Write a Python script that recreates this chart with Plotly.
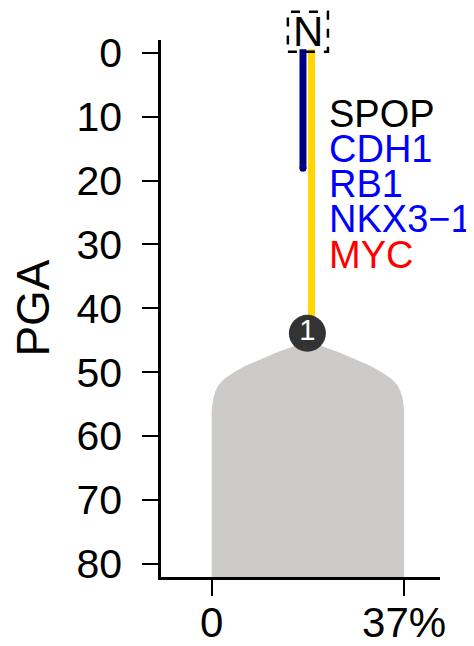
import plotly.graph_objects as go

# ---- data ----
genes = ["SPOP", "CDH1", "RB1", "NKX3\u22121", "MYC"]
gene_colors = ["black", "blue", "blue", "blue", "red"]
gene_pga = [9.6, 15.1, 20.6, 26.1, 31.6]
gene_x = 22.1

# density silhouette of PGA (half-width in % units around centre)
shape_pga = [45.3, 46.0, 47.0, 48.0, 49.0, 50.0, 51.0, 52.0, 53.0, 54.0, 55.0, 56.0, 82.05]
shape_halfwidth = [0.0, 3.0, 6.3, 9.3, 12.0, 14.2, 16.0, 17.2, 17.8, 18.2, 18.4, 18.5, 18.5]
shape_center = 18.5

# clone branches: [x, start PGA, end PGA]
navy_x, navy_start, navy_end = 17.55, 0.0, 18.1
gold_x, gold_start, gold_end = 19.2, 0.0, 43.9

node_x, node_pga, node_label = 18.4, 43.9, "1"
root_x, root_pga, root_label = 18.5, -3.3, "N"

x_tickvals = [0, 37]
x_ticktext = ["0", "37%"]
y_tickvals = [0, 10, 20, 30, 40, 50, 60, 70, 80]

x_range = [-9.75, 43.9]
y_range = [82.05, -1.99]

FONT = "Liberation Sans, Arial, sans-serif"
px_per_unit_y = 6.39
cap = 3.5 / px_per_unit_y

fig = go.Figure()

# grey silhouette
left = [shape_center - h for h in shape_halfwidth]
right = [shape_center + h for h in shape_halfwidth]
fig.add_trace(go.Scatter(
    x=left + right[::-1], y=shape_pga + shape_pga[::-1],
    fill="toself", fillcolor="#CCCBCA", mode="lines",
    line=dict(width=0, color="#CCCBCA"), hoverinfo="skip", showlegend=False))

# branches
fig.add_trace(go.Scatter(x=[gold_x, gold_x], y=[gold_start - cap, gold_end],
                         mode="lines", line=dict(color="#FFD700", width=7),
                         showlegend=False, hoverinfo="skip"))
fig.add_trace(go.Scatter(x=[navy_x, navy_x], y=[navy_start - cap, navy_end],
                         mode="lines", line=dict(color="#000080", width=7),
                         showlegend=False, hoverinfo="skip"))
# round cap at navy end
fig.add_trace(go.Scatter(x=[navy_x], y=[navy_end], mode="markers",
                         marker=dict(size=7, color="#000080"),
                         showlegend=False, hoverinfo="skip"))

# node
fig.add_trace(go.Scatter(x=[node_x], y=[node_pga], mode="markers+text",
                         marker=dict(size=37, color="#333333", line=dict(width=0)),
                         text=[node_label], textposition="middle center",
                         textfont=dict(family=FONT, size=29, color="white"),
                         showlegend=False, hoverinfo="skip", cliponaxis=False))

def ypaper(v):
    return (y_range[0] - v) / (y_range[0] - y_range[1])

annotations = []
for g, c, p in zip(genes, gene_colors, gene_pga):
    annotations.append(dict(x=gene_x, y=p, xref="x", yref="y", text=g,
                            showarrow=False, xanchor="left", yanchor="middle",
                            font=dict(family=FONT, size=38, color=c)))

# root "N"
annotations.append(dict(x=root_x, y=ypaper(root_pga), xref="x", yref="paper",
                        text=root_label, showarrow=False, xanchor="center",
                        yanchor="middle",
                        font=dict(family=FONT, size=42, color="black")))
# axis title
annotations.append(dict(x=-0.462, y=0.5, xref="paper", yref="paper", text="PGA",
                        showarrow=False, textangle=-90, xanchor="center",
                        yanchor="middle",
                        font=dict(family=FONT, size=46, color="black")))

half_h = 20 / px_per_unit_y
half_w = 3.85
shapes = [dict(type="rect", xref="x", yref="paper",
               x0=root_x - half_w, x1=root_x + half_w,
               y0=ypaper(root_pga + half_h), y1=ypaper(root_pga - half_h),
               line=dict(color="black", width=2.5, dash="dash"),
               fillcolor="rgba(0,0,0,0)", layer="above")]

# page body has an 8px margin: figure is drawn at (8, 8)
fig.update_layout(
    width=466, height=638,
    margin=dict(l=153, r=34, t=32, b=69, autoexpand=False),
    paper_bgcolor="white", plot_bgcolor="white",
    annotations=annotations, shapes=shapes,
    xaxis=dict(range=x_range, tickvals=x_tickvals, ticktext=x_ticktext,
               automargin=False,
               showgrid=False, zeroline=False, showline=True, linecolor="black",
               linewidth=2.5, ticks="outside", ticklen=16, tickwidth=2,
               tickcolor="black", ticklabelstandoff=-9,
               tickfont=dict(family=FONT, size=42, color="black")),
    yaxis=dict(range=y_range, tickvals=y_tickvals, automargin=False,
               showgrid=False, zeroline=False, showline=True, linecolor="black",
               linewidth=2.5, ticks="outside", ticklen=16, tickwidth=2,
               tickcolor="black", ticklabelstandoff=12,
               tickfont=dict(family=FONT, size=41, color="black")),
)

fig.write_html("out.html")
